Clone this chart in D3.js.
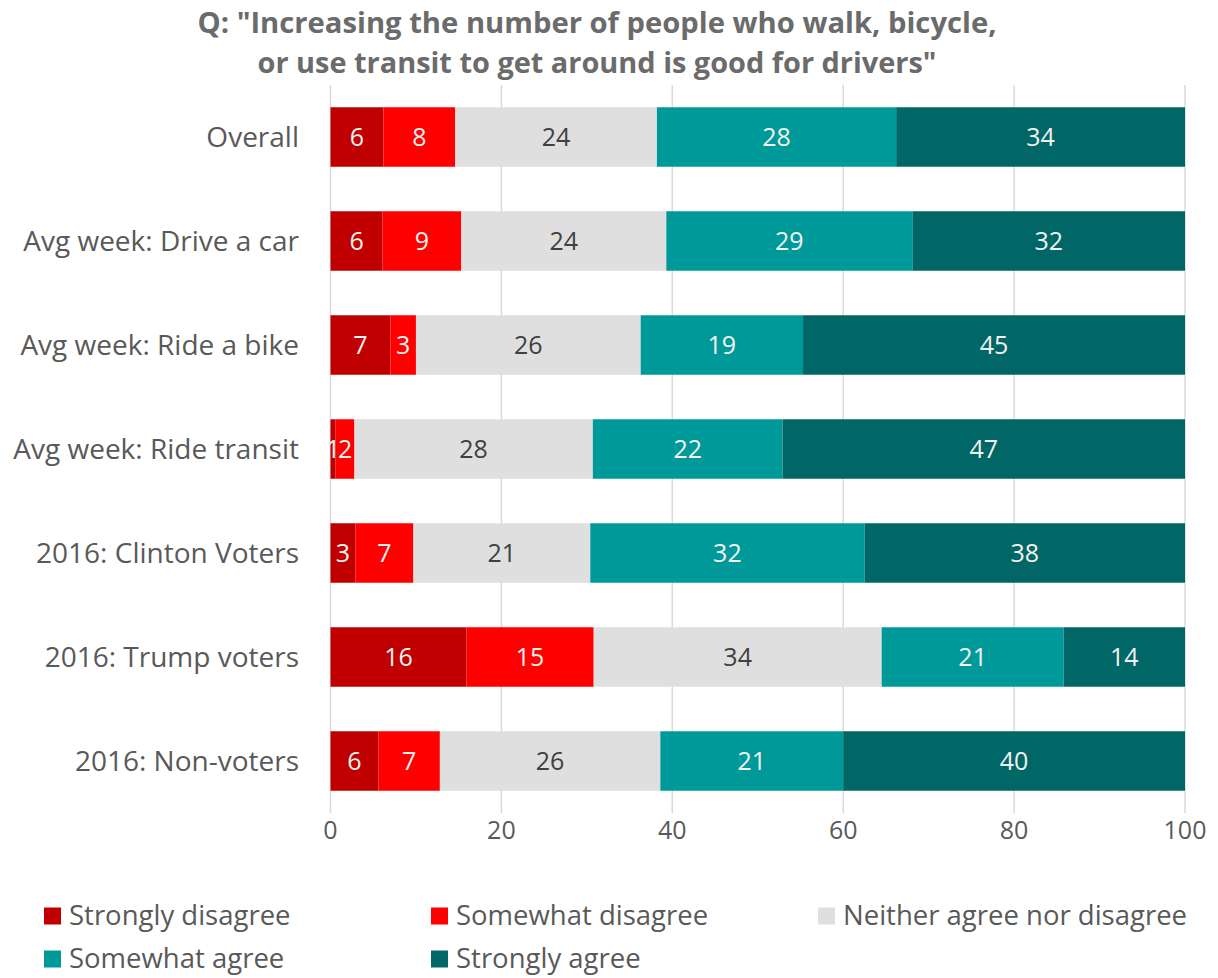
<!DOCTYPE html>
<html>
<head>
<meta charset="utf-8">
<script src="https://cdn.jsdelivr.net/npm/d3@7"></script>
<style>
  body { margin: 0; background: #fff; }
  svg text { font-family: "Open Sans", Lato, sans-serif; }
</style>
</head>
<body>
<svg id="chart" width="1218" height="978"></svg>
<script>
  // categories, top to bottom
  var categories = ["Overall", "Avg week: Drive a car", "Avg week: Ride a bike", "Avg week: Ride transit",
    "2016: Clinton Voters", "2016: Trump voters", "2016: Non-voters"];

  // percentages per response
  var stronglyDisagree = [6.2, 6.1, 7.0, 0.6, 2.9, 15.9, 5.6];
  var somewhatDisagree = [8.4, 9.2, 3.0, 2.2, 6.8, 14.9, 7.2];
  var neitherAgree     = [23.6, 24.0, 26.3, 27.9, 20.7, 33.7, 25.8];
  var somewhatAgree    = [28.0, 28.8, 19.0, 22.2, 32.1, 21.3, 21.4];
  var stronglyAgree    = [33.8, 31.9, 44.7, 47.1, 37.5, 14.2, 40.0];

  var seriesNames = ["Strongly disagree", "Somewhat disagree", "Neither agree nor disagree",
    "Somewhat agree", "Strongly agree"];
  var seriesColors = ["#c00000", "#ff0000", "#dfdfdf", "#009999", "#006666"];
  var labelColors = ["#f2f2f2", "#f2f2f2", "#404040", "#f2f2f2", "#f2f2f2"];
  var xTicks = [0, 20, 40, 60, 80, 100];

  var titleLines = ['Q: "Increasing the number of people who walk, bicycle,',
    'or use transit to get around is good for drivers"'];
  var titleWidths = [799, 679];

  var svg = d3.select("#chart");

  // build rows for the stack
  var rows = categories.map(function (c, i) {
    return {
      cat: c,
      s0: stronglyDisagree[i], s1: somewhatDisagree[i], s2: neitherAgree[i],
      s3: somewhatAgree[i], s4: stronglyAgree[i]
    };
  });
  var keys = ["s0", "s1", "s2", "s3", "s4"];
  var stacked = d3.stack().keys(keys)(rows);

  var x = d3.scaleLinear().domain([0, 100]).range([330.5, 1185]);
  var y = d3.scaleBand().domain(categories).range([85, 813])
    .paddingInner(0.428).paddingOuter(0.214);

  // title (the original uses a condensed bold face, so squeeze it to width)
  svg.append("g").selectAll("text")
    .data(titleLines)
    .join("text")
    .attr("x", 597)
    .attr("y", function (d, i) { return 33 + i * 40; })
    .attr("text-anchor", "middle")
    .attr("font-size", 29)
    .attr("font-weight", "bold")
    .attr("fill", "#6b6b6b")
    .attr("textLength", function (d, i) { return titleWidths[i]; })
    .attr("lengthAdjust", "spacingAndGlyphs")
    .text(function (d) { return d; });

  // gridlines
  svg.append("g").selectAll("line")
    .data(xTicks)
    .join("line")
    .attr("x1", function (d) { return x(d); })
    .attr("x2", function (d) { return x(d); })
    .attr("y1", 85)
    .attr("y2", 813)
    .attr("stroke", "#d9d9d9")
    .attr("stroke-width", 1.5);

  // bars
  var layer = svg.append("g").selectAll("g")
    .data(stacked)
    .join("g")
    .attr("fill", function (d, i) { return seriesColors[i]; });

  layer.selectAll("rect")
    .data(function (d) { return d; })
    .join("rect")
    .attr("x", function (d) { return x(d[0]); })
    .attr("width", function (d) { return x(d[1]) - x(d[0]); })
    .attr("y", function (d) { return y(d.data.cat); })
    .attr("height", y.bandwidth());

  // value labels
  stacked.forEach(function (s, si) {
    svg.append("g").selectAll("text")
      .data(s)
      .join("text")
      .attr("x", function (d) { return (x(d[0]) + x(d[1])) / 2; })
      .attr("y", function (d) { return y(d.data.cat) + y.bandwidth() / 2; })
      .attr("dy", "0.36em")
      .attr("text-anchor", "middle")
      .attr("font-size", 25)
      .attr("fill", labelColors[si])
      .text(function (d) { return Math.round(d[1] - d[0]); });
  });

  // category labels
  svg.append("g").selectAll("text")
    .data(categories)
    .join("text")
    .attr("x", 299)
    .attr("y", function (d) { return y(d) + y.bandwidth() / 2; })
    .attr("dy", "0.36em")
    .attr("text-anchor", "end")
    .attr("font-size", 28)
    .attr("fill", "#595959")
    .text(function (d) { return d; });

  // x axis tick labels
  svg.append("g").selectAll("text")
    .data(xTicks)
    .join("text")
    .attr("x", function (d) { return x(d); })
    .attr("y", 830)
    .attr("dy", "0.36em")
    .attr("text-anchor", "middle")
    .attr("font-size", 25)
    .attr("fill", "#595959")
    .text(function (d) { return d; });

  // legend
  var legendPos = [[44, 916], [431, 916], [818, 916], [44, 959], [431, 959]];
  var legend = svg.append("g").selectAll("g")
    .data(seriesNames)
    .join("g")
    .attr("transform", function (d, i) { return "translate(" + legendPos[i][0] + "," + legendPos[i][1] + ")"; });
  legend.append("rect")
    .attr("x", 0).attr("y", -8.5).attr("width", 17).attr("height", 17)
    .attr("fill", function (d, i) { return seriesColors[i]; });
  legend.append("text")
    .attr("x", 25)
    .attr("dy", "0.34em")
    .attr("font-size", 27.5)
    .attr("fill", "#595959")
    .text(function (d) { return d; });
</script>
</body>
</html>
